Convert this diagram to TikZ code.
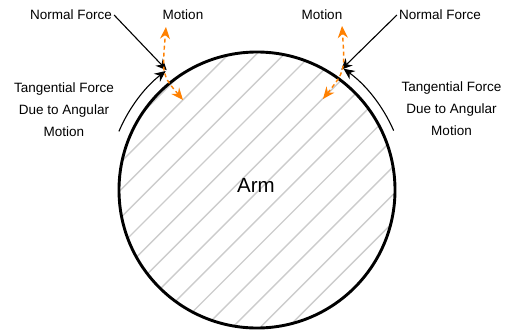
\documentclass[tikz,border=0pt]{standalone}
\usepackage{fontspec}
\setmainfont{Liberation Sans}
\usepackage{xcolor}
\usepackage{tikz}
\usetikzlibrary{arrows.meta,calc}
\definecolor{hatchgray}{HTML}{CCCCCC}
\definecolor{motionorange}{HTML}{FF8000}
\tikzset{
  rim/.style={draw=black, line width=2.9pt},
  hatch/.style={draw=hatchgray, line width=1.4pt},
  force/.style={draw=black, line width=1.1pt, -{Stealth[length=11pt,width=10pt,inset=3.5pt]}},
  motion/.style={draw=motionorange, line width=1.4pt, dash pattern=on 4pt off 3pt,
    {Stealth[length=12pt,width=10pt,inset=4pt]}-{Stealth[length=12pt,width=10pt,inset=4pt]}},
  lbl/.style={font=\fontsize{13.5}{22}\selectfont, inner sep=2pt, align=center},
}
\def\Rarm{138}
\def\Rtan{150}

\begin{document}
\begin{tikzpicture}[x=1pt, y=1pt]
  \useasboundingbox (0,0) rectangle (505,330);
  \coordinate (c) at (257,140);

  % arm cross-section
  \begin{scope}
    \clip (c) circle (\Rarm);
    \foreach \k in {-4,...,12}
      \draw[hatch] ({8.3+27.7*\k-10},-10) -- ({8.3+27.7*\k+340},340);
  \end{scope}
  \draw[rim] (c) circle (\Rarm);
  \node[font=\fontsize{20.5}{24}\selectfont] (arm) at (256,145) {Arm};

  % left contact
  \node[lbl] (nfl) at (71,315) {Normal Force};
  \node[lbl] (mvl) at (183,315) {Motion};
  \node[lbl] (tfl) at (64,220) {Tangential Force\\Due to Angular\\Motion};
  \coordinate (pl) at ($(c)+(127:\Rtan)$);
  \coordinate (tl) at ($(c)+(157:\Rtan)$);
  \coordinate (ml1) at (183,230);
  \coordinate (mlc) at (162,255);
  \coordinate (ml2) at (166,303);
  \draw[force] (nfl.east) -- (pl);
  \draw[force] (tl) arc[start angle=157, end angle=127.5, radius=\Rtan];
  \draw[motion] (ml1) .. controls (mlc) .. (ml2);

  % right contact
  \node[lbl] (nfr) at (440,315) {Normal Force};
  \node[lbl] (mvr) at (322,315) {Motion};
  \node[lbl] (tfr) at (451.5,221) {Tangential Force\\Due to Angular\\Motion};
  \coordinate (pr) at ($(c)+(55:147)$);
  \coordinate (tr) at ($(c)+(23.5:149)$);
  \coordinate (mr1) at (323,231);
  \coordinate (mrc) at (345,259);
  \coordinate (mr2) at (342,304);
  \draw[force] (nfr.west) -- (pr);
  \draw[force] (tr) arc[start angle=23.5, end angle=54.5, radius=149];
  \draw[motion] (mr1) .. controls (mrc) .. (mr2);

\end{tikzpicture}
\end{document}
